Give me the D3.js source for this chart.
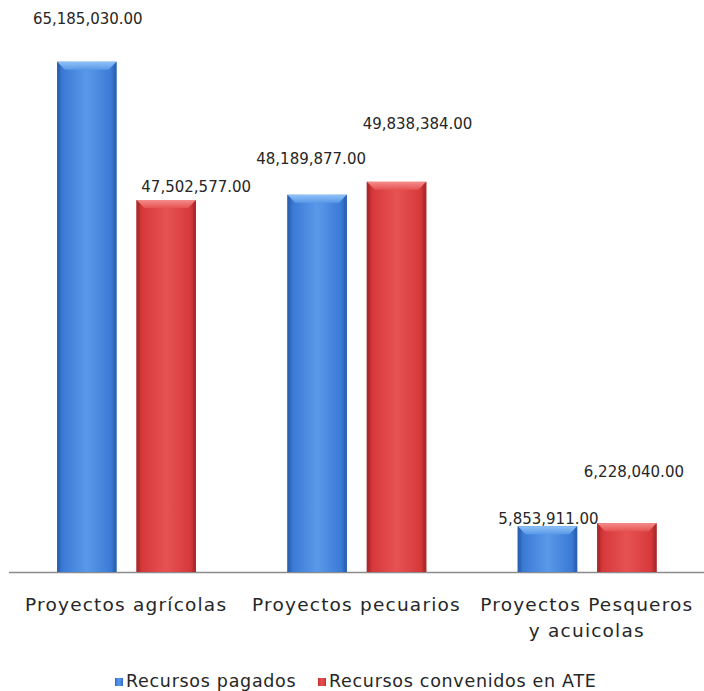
<!DOCTYPE html>
<html lang="es">
<head>
<meta charset="utf-8">
<title>Recursos</title>
<script src="https://cdn.jsdelivr.net/npm/d3@7"></script>
<style>
body { margin: 0; background: #fff; }
text { font-family: "DejaVu Sans", sans-serif; fill: #262626; }
</style>
</head>
<body>
<script>
// data
var categories = [["Proyectos agrícolas"], ["Proyectos pecuarios"], ["Proyectos Pesqueros", "y acuicolas"]];
var seriesNames = ["Recursos pagados", "Recursos convenidos en ATE"];
var pagados = [65185030, 48189877, 5853911];
var convenidos = [47502577, 49838384, 6228040];

// label nudges (dx, dy from bar top) as in the original
var labelDx = [[1, 30], [-6, 21], [1, 7]];
var labelDy = [[-42, -13], [-35, -57], [-7, -51]];

var w = 704, h = 691;
var svg = d3.select("body").append("svg").attr("width", w).attr("height", h);

var x = d3.scaleBand().domain(d3.range(categories.length)).range([11, 702]);
var x1 = d3.scaleBand().domain([0, 1]).range([46, 185]).paddingInner(0.25);
var y = d3.scaleLinear().domain([0, 70000000]).range([572, 24]);

var colors = [
    {light: "#5a98e8", mid: "#3b7bd6", dark: "#2a60b2", top: "#8fc2f6"},
    {light: "#e65252", mid: "#d7393b", dark: "#ab2829", top: "#f48c8a"}
];

var defs = svg.append("defs");
colors.forEach(function(c, i) {
    var g = defs.append("linearGradient").attr("id", "g" + i).attr("x1", 0).attr("x2", 1).attr("y1", 0).attr("y2", 0);
    g.append("stop").attr("offset", "0%").attr("stop-color", c.dark);
    g.append("stop").attr("offset", "10%").attr("stop-color", c.mid);
    g.append("stop").attr("offset", "50%").attr("stop-color", c.light);
    g.append("stop").attr("offset", "90%").attr("stop-color", c.mid);
    g.append("stop").attr("offset", "100%").attr("stop-color", c.dark);
    var t = defs.append("linearGradient").attr("id", "t" + i).attr("x1", 0).attr("x2", 0).attr("y1", 0).attr("y2", 1);
    t.append("stop").attr("offset", "0%").attr("stop-color", c.top);
    t.append("stop").attr("offset", "100%").attr("stop-color", c.light);
});

// axis line
svg.append("line").attr("x1", 9).attr("x2", 704).attr("y1", 572.5).attr("y2", 572.5)
    .attr("stroke", "#8c8c8c").attr("stroke-width", 1.5);

var rows = categories.map(function(c, i) { return [pagados[i], convenidos[i]]; });

var groups = svg.selectAll("g.cat").data(rows).enter().append("g")
    .attr("class", "cat")
    .attr("transform", function(d, i) { return "translate(" + x(i) + ",0)"; });

var bars = groups.selectAll("g.bar").data(function(d, i) {
    return d.map(function(v, s) { return {v: v, s: s, c: i}; });
}).enter().append("g").attr("class", "bar");

bars.append("rect")
    .attr("x", function(d) { return x1(d.s); })
    .attr("y", function(d) { return y(d.v); })
    .attr("width", x1.bandwidth())
    .attr("height", function(d) { return y(0) - y(d.v); })
    .attr("fill", function(d) { return "url(#g" + d.s + ")"; });

// top bevel
bars.append("path")
    .attr("d", function(d) {
        var x0 = x1(d.s), bw = x1.bandwidth(), t = y(d.v), b = 8;
        return "M" + x0 + "," + t + "H" + (x0 + bw) + "L" + (x0 + bw - b) + "," + (t + b) + "H" + (x0 + b) + "Z";
    })
    .attr("fill", function(d) { return "url(#t" + d.s + ")"; });

// side edges
bars.append("path")
    .attr("d", function(d) {
        var x0 = x1(d.s), bw = x1.bandwidth(), t = y(d.v), b = 3;
        return "M" + x0 + "," + t + "L" + (x0 + b) + "," + (t + 3) + "V" + y(0) + "H" + x0 + "Z" +
            "M" + (x0 + bw) + "," + t + "L" + (x0 + bw - b) + "," + (t + 3) + "V" + y(0) + "H" + (x0 + bw) + "Z";
    })
    .attr("fill", function(d) { return colors[d.s].dark; })
    .attr("opacity", 0.6);

// value labels
bars.append("text")
    .attr("x", function(d) { return x1(d.s) + x1.bandwidth() / 2 + labelDx[d.c][d.s]; })
    .attr("y", function(d) { return y(d.v) + labelDy[d.c][d.s]; })
    .attr("text-anchor", "middle")
    .attr("dominant-baseline", "middle")
    .style("font-size", "15px")
    .text(function(d) { return d3.format(",.2f")(d.v); });

// category labels
groups.append("text")
    .attr("text-anchor", "middle")
    .attr("x", x.bandwidth() / 2)
    .attr("y", 611)
    .style("font-size", "18.5px")
    .style("letter-spacing", "1.2px")
    .selectAll("tspan").data(function(d, i) { return categories[i]; }).enter().append("tspan")
    .attr("x", x.bandwidth() / 2)
    .attr("dy", function(d, i) { return i === 0 ? 0 : 26; })
    .text(function(d) { return d; });

// legend
var legX = [115, 318];
var leg = svg.selectAll("g.leg").data(seriesNames).enter().append("g")
    .attr("class", "leg")
    .attr("transform", function(d, i) { return "translate(" + legX[i] + ",682)"; });
leg.append("rect").attr("x", 0).attr("y", -4).attr("width", 8).attr("height", 8)
    .attr("fill", function(d, i) { return "url(#g" + i + ")"; });
leg.append("text").attr("x", 11).attr("y", 0).attr("dominant-baseline", "middle")
    .style("font-size", "17.5px")
    .style("letter-spacing", "0.7px")
    .text(function(d) { return d; });
</script>
</body>
</html>
